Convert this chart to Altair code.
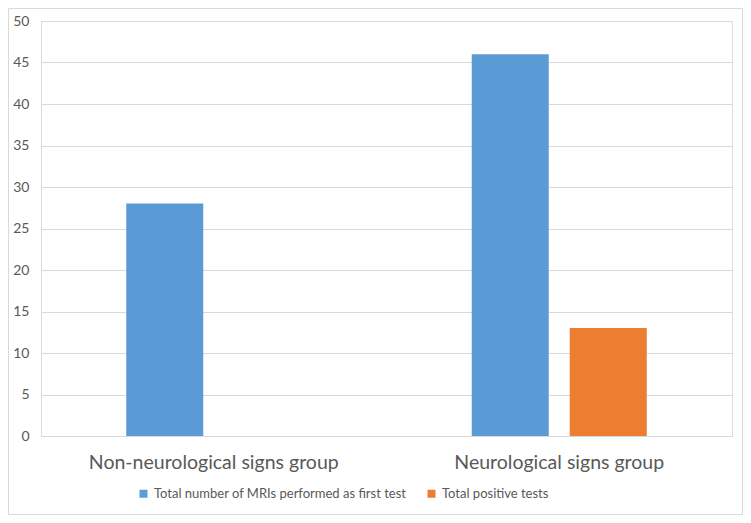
import altair as alt
import pandas as pd

groups = ["Non-neurological signs group", "Neurological signs group"]
series = ["Total number of MRIs performed as first test", "Total positive tests"]
mri_values = [28, 46]
positive_values = [0, 13]

rows = []
for g, a, b in zip(groups, mri_values, positive_values):
    rows.append({"group": g, "series": series[0], "value": a})
    rows.append({"group": g, "series": series[1], "value": b})
df = pd.DataFrame(rows)

W, H = 691, 415
PL, PT, PR, PB = 33, 13, 11, 79
FONT = "Lato"
GRAY = "#595959"

bars = alt.Chart(df).mark_bar().encode(
    x=alt.X("group:N", sort=groups, title=None,
            scale=alt.Scale(paddingInner=0, paddingOuter=0),
            axis=alt.Axis(labelAngle=0, labelFontSize=19.5, labelColor=GRAY, labelFont=FONT,
                          labelLimit=0, ticks=False, domainColor="#d9d9d9",
                          labelPadding=17, grid=False)),
    xOffset=alt.XOffset("series:N", sort=series,
                        scale=alt.Scale(paddingInner=0.214, paddingOuter=0.87)),
    y=alt.Y("value:Q", title=None,
            scale=alt.Scale(domain=[0, 50]),
            axis=alt.Axis(values=list(range(0, 51, 5)), labelFontSize=14, labelColor=GRAY,
                          labelFont=FONT, ticks=False, domain=False, labelPadding=12,
                          gridColor="#d9d9d9")),
    color=alt.Color("series:N", sort=series,
                    scale=alt.Scale(domain=series, range=["#5B9BD5", "#ED7D31"]),
                    legend=alt.Legend(title=None, orient="none", direction="horizontal",
                                      legendX=96, legendY=466, symbolType="square",
                                      symbolSize=64, symbolStrokeWidth=0, labelFontSize=13,
                                      labelColor=GRAY, labelFont=FONT, labelLimit=0,
                                      columnPadding=18, symbolOffset=0)),
)

border = alt.Chart(pd.DataFrame({"a": [0]})).mark_rect(
    fill=None, stroke="#d9d9d9", strokeWidth=1
).encode(
    x=alt.value(-PL + 0.5), x2=alt.value(W + PR - 0.5),
    y=alt.value(-PT + 0.5), y2=alt.value(H + PB - 0.5),
)

chart = alt.layer(border, bars).properties(
    width=W, height=H,
    autosize=alt.AutoSizeParams(type="none"),
    padding={"left": PL, "top": PT, "right": PR, "bottom": PB},
).configure_view(stroke=None).configure(background="white")

chart.save("out.html", embed_options={"renderer": "svg", "actions": False})
